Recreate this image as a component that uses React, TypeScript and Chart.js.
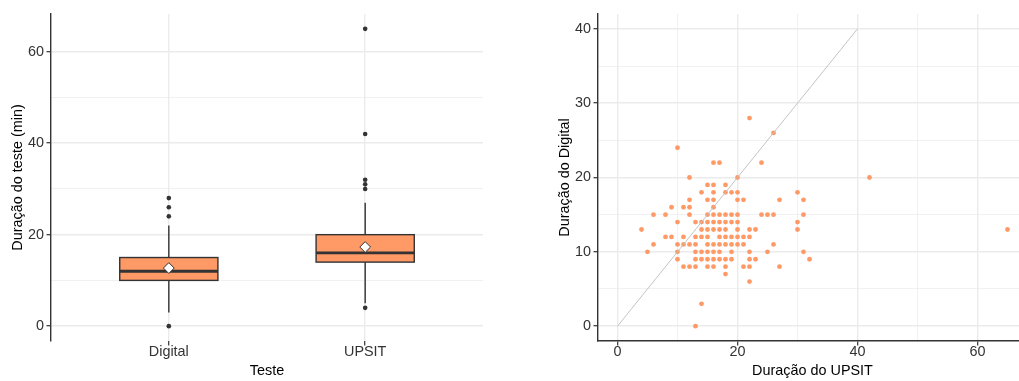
import { useEffect, useRef } from 'react';
import { Chart, registerables } from 'chart.js';

Chart.register(...registerables);

// ---------- Left panel: boxplot ----------
const testCategories = ['Digital', 'UPSIT'];
const boxQ1 = [10, 14];
const boxMedian = [12, 16];
const boxQ3 = [15, 20];
const whiskerLow = [3, 5];
const whiskerHigh = [22, 27];
const groupMeans = [12.7, 17.3];
const digitalOutliers = [0, 24, 26, 28];
const upsitOutliers = [4, 30, 31, 32, 42, 65];
const leftYTicks = [0, 10, 20, 30, 40, 50, 60];
const leftYLabelled = [0, 20, 40, 60];

// ---------- Right panel: scatter ----------
const upsitDuration = [
  13,
  14,
  22,
  18,
  11, 12, 13, 15, 16, 18, 21, 22, 27,
  10, 13, 14, 15, 16, 17, 18, 19, 22, 23, 32,
  5, 10, 13, 14, 15, 16, 17, 19, 22, 25, 31,
  6, 10, 11, 12, 13, 15, 16, 17, 18, 19, 20, 21, 26,
  8, 9, 11, 13, 14, 15, 17, 18, 19, 20, 21, 22,
  4, 14, 15, 16, 17, 18, 20, 22, 23, 30, 65,
  10, 13, 14, 15, 16, 17, 18, 19, 20, 30,
  6, 8, 12, 15, 16, 17, 18, 19, 20, 24, 25, 26, 31,
  9, 11, 12, 16,
  12, 15, 16, 20, 21, 27, 31,
  14, 16, 18, 19, 20, 30,
  15, 16, 18,
  12, 20, 42,
  16, 17, 24,
  10,
  26,
  22,
];
const digitalDuration = [
  0,
  3,
  6,
  7,
  8, 8, 8, 8, 8, 8, 8, 8, 8,
  9, 9, 9, 9, 9, 9, 9, 9, 9, 9, 9,
  10, 10, 10, 10, 10, 10, 10, 10, 10, 10, 10,
  11, 11, 11, 11, 11, 11, 11, 11, 11, 11, 11, 11, 11,
  12, 12, 12, 12, 12, 12, 12, 12, 12, 12, 12, 12,
  13, 13, 13, 13, 13, 13, 13, 13, 13, 13, 13,
  14, 14, 14, 14, 14, 14, 14, 14, 14, 14,
  15, 15, 15, 15, 15, 15, 15, 15, 15, 15, 15, 15, 15,
  16, 16, 16, 16,
  17, 17, 17, 17, 17, 17, 17,
  18, 18, 18, 18, 18, 18,
  19, 19, 19,
  20, 20, 20,
  22, 22, 22,
  24,
  26,
  28,
];
const identityLine = [0, 40];
const rightXTicks = [0, 10, 20, 30, 40, 50, 60];
const rightXLabelled = [0, 20, 40, 60];
const rightYTicks = [0, 5, 10, 15, 20, 25, 30, 35, 40];
const rightYLabelled = [0, 10, 20, 30, 40];

// ---------- Styles ----------
const FONT = 'Liberation Sans, Arial, Helvetica, sans-serif';
const FILL = '#FF9966';
const DARK = '#333333';
const GRID = '#EBEBEB';
const TICK_TEXT = '#333333';
const tickFont = { family: FONT, size: 14.4, lineHeight: 1 };
const titleFont = { family: FONT, size: 14.4, lineHeight: 1.2 };

const boxPlugin = {
  id: 'boxes',
  beforeDatasetsDraw(chart: any) {
    const { ctx } = chart;
    const x = chart.scales.x;
    const y = chart.scales.y;
    const halfW = 0.25;
    ctx.save();
    testCategories.forEach((_, i) => {
      const cx = x.getPixelForValue(i + 1);
      const left = x.getPixelForValue(i + 1 - halfW);
      const right = x.getPixelForValue(i + 1 + halfW);
      const yq1 = y.getPixelForValue(boxQ1[i]);
      const yq3 = y.getPixelForValue(boxQ3[i]);
      const ymed = y.getPixelForValue(boxMedian[i]);
      const ylo = y.getPixelForValue(whiskerLow[i]);
      const yhi = y.getPixelForValue(whiskerHigh[i]);
      ctx.strokeStyle = DARK;
      ctx.lineWidth = 1.4;
      ctx.beginPath();
      ctx.moveTo(cx, yhi);
      ctx.lineTo(cx, yq3);
      ctx.moveTo(cx, yq1);
      ctx.lineTo(cx, ylo);
      ctx.stroke();
      ctx.fillStyle = FILL;
      ctx.fillRect(left, yq3, right - left, yq1 - yq3);
      ctx.strokeRect(left, yq3, right - left, yq1 - yq3);
      ctx.lineWidth = 2.8;
      ctx.beginPath();
      ctx.moveTo(left, ymed);
      ctx.lineTo(right, ymed);
      ctx.stroke();
    });
    ctx.restore();
  },
};

const fixTicks = (values: number[]) => (scale: any) => {
  scale.ticks = values.map((v) => ({ value: v }));
};

export default function App() {
  const leftRef = useRef<HTMLCanvasElement>(null);
  const rightRef = useRef<HTMLCanvasElement>(null);

  useEffect(() => {
    const outlierPoints = [
      ...digitalOutliers.map((v) => ({ x: 1, y: v })),
      ...upsitOutliers.map((v) => ({ x: 2, y: v })),
    ];
    const meanPoints = groupMeans.map((v, i) => ({ x: i + 1, y: v }));

    const left = new Chart(leftRef.current!, {
      type: 'scatter',
      data: {
        datasets: [
          {
            data: meanPoints,
            pointStyle: 'rectRot',
            pointRadius: 5.4,
            backgroundColor: '#FFFFFF',
            borderColor: DARK,
            borderWidth: 1,
            order: 1,
          },
          {
            data: outlierPoints,
            pointRadius: 2.3,
            backgroundColor: DARK,
            borderWidth: 0,
            order: 2,
          },
        ],
      },
      options: {
        animation: false,
        responsive: false,
        devicePixelRatio: 1,
        events: [],
        layout: { padding: { left: 0, right: 17, top: 14, bottom: 0 } },
        plugins: { legend: { display: false }, tooltip: { enabled: false } },
        scales: {
          x: {
            type: 'linear',
            min: 0.4,
            max: 2.6,
            afterBuildTicks: fixTicks([1, 2]),
            afterFit: (s: any) => {
              s.height = 40;
            },
            ticks: {
              callback: (v: any) => testCategories[Number(v) - 1],
              autoSkip: false,
              maxRotation: 0,
              minRotation: 0,
              padding: -0.7,
              color: TICK_TEXT,
              font: tickFont,
            },
            grid: {
              color: GRID,
              lineWidth: 1.4,
              tickColor: DARK,
              tickLength: 4.5,
              tickWidth: 1.2,
            },
            border: { display: false },
            title: {
              display: true,
              text: 'Teste',
              color: '#000',
              font: titleFont,
              padding: { top: 0, bottom: 0.9 },
            },
          },
          y: {
            type: 'linear',
            min: -3.25,
            max: 68.25,
            afterBuildTicks: fixTicks(leftYTicks),
            afterFit: (s: any) => {
              s.width = 51;
            },
            ticks: {
              callback: (v: any) => (leftYLabelled.includes(Number(v)) ? String(v) : ''),
              autoSkip: false,
              padding: 2.5,
              color: TICK_TEXT,
              font: tickFont,
            },
            grid: {
              color: GRID,
              lineWidth: (c: any) => (leftYLabelled.includes(c.tick?.value) ? 1.4 : 0.7),
              tickColor: (c: any) => (leftYLabelled.includes(c.tick?.value) ? DARK : 'rgba(0,0,0,0)'),
              tickLength: 4.5,
              tickWidth: 1.2,
            },
            border: { display: true, color: DARK, width: 1.4 },
            title: {
              display: true,
              text: 'Duração do teste (min)',
              color: '#000',
              font: titleFont,
              padding: { top: 8.9, bottom: 0 },
            },
          },
        },
      },
      plugins: [boxPlugin],
    } as any);

    const scatterPoints = upsitDuration.map((x, i) => ({ x, y: digitalDuration[i] }));
    const linePoints = identityLine.map((v) => ({ x: v, y: v }));

    const right = new Chart(rightRef.current!, {
      type: 'scatter',
      data: {
        datasets: [
          {
            data: linePoints,
            showLine: true,
            borderColor: '#BDBDBD',
            borderWidth: 0.9,
            pointRadius: 0,
            order: 0,
          },
          {
            data: scatterPoints,
            pointRadius: 2.4,
            backgroundColor: FILL,
            borderWidth: 0,
            order: 1,
          },
        ],
      },
      options: {
        animation: false,
        responsive: false,
        devicePixelRatio: 1,
        events: [],
        layout: { padding: { left: 0, right: 0, top: 14, bottom: 0 } },
        plugins: { legend: { display: false }, tooltip: { enabled: false } },
        scales: {
          x: {
            type: 'linear',
            min: -3.25,
            max: 68.25,
            afterBuildTicks: fixTicks(rightXTicks),
            afterFit: (s: any) => {
              s.height = 40;
            },
            ticks: {
              callback: (v: any) => (rightXLabelled.includes(Number(v)) ? String(v) : ''),
              autoSkip: false,
              maxRotation: 0,
              minRotation: 0,
              padding: -0.7,
              color: TICK_TEXT,
              font: tickFont,
            },
            grid: {
              color: GRID,
              lineWidth: (c: any) => (rightXLabelled.includes(c.tick?.value) ? 1.4 : 0.7),
              tickColor: (c: any) => (rightXLabelled.includes(c.tick?.value) ? DARK : 'rgba(0,0,0,0)'),
              tickLength: 4.5,
              tickWidth: 1.2,
            },
            border: { display: true, color: DARK, width: 1.4 },
            title: {
              display: true,
              text: 'Duração do UPSIT',
              color: '#000',
              font: titleFont,
              padding: { top: 0, bottom: 0.9 },
            },
          },
          y: {
            type: 'linear',
            min: -2,
            max: 42,
            afterBuildTicks: fixTicks(rightYTicks),
            afterFit: (s: any) => {
              s.width = 98;
            },
            ticks: {
              callback: (v: any) => (rightYLabelled.includes(Number(v)) ? String(v) : ''),
              autoSkip: false,
              padding: 2.5,
              color: TICK_TEXT,
              font: tickFont,
            },
            grid: {
              color: GRID,
              lineWidth: (c: any) => (rightYLabelled.includes(c.tick?.value) ? 1.4 : 0.7),
              tickColor: (c: any) => (rightYLabelled.includes(c.tick?.value) ? DARK : 'rgba(0,0,0,0)'),
              tickLength: 4.5,
              tickWidth: 1.2,
            },
            border: { display: true, color: DARK, width: 1.4 },
            title: {
              display: true,
              text: 'Duração do Digital',
              color: '#000',
              font: titleFont,
              padding: { top: 56.4, bottom: 0 },
            },
          },
        },
      },
    } as any);

    return () => {
      left.destroy();
      right.destroy();
    };
  }, []);

  return (
    <div
      style={{
        position: 'fixed',
        left: 0,
        top: 0,
        width: 1019,
        height: 381,
        overflow: 'hidden',
        background: '#FFFFFF',
      }}
    >
      <canvas
        ref={leftRef}
        width={500}
        height={381}
        style={{ position: 'absolute', left: 0, top: 0, width: 500, height: 381 }}
      />
      <canvas
        ref={rightRef}
        width={531}
        height={381}
        style={{ position: 'absolute', left: 500, top: 0, width: 531, height: 381 }}
      />
    </div>
  );
}
